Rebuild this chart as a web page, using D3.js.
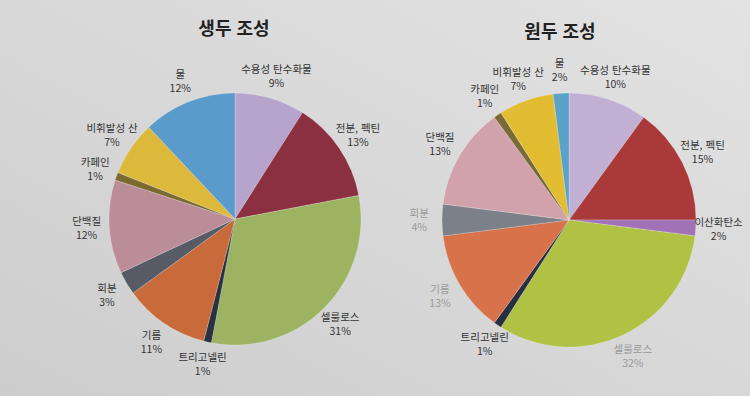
<!DOCTYPE html>
<html lang="ko">
<head>
    <meta charset="UTF-8">
    <title>생두 / 원두 조성</title>
    <script src="https://d3js.org/d3.v7.min.js"></script>
    <style>
        body { margin: 0; }
        text { font-family: "Noto Sans CJK KR", "Noto Sans", sans-serif; }
    </style>
</head>
<body>
    <svg id="svg1" width="750" height="396"></svg>

    <script>
        // data ---------------------------------------------------------------
        const greenNames  = ["수용성 탄수화물", "전분, 펙틴", "셀룰로스", "트리고넬린", "기름", "회분", "단백질", "카페인", "비휘발성 산", "물"];
        const greenValues = [9, 13, 31, 1, 11, 3, 12, 1, 7, 12];
        const greenColors = ["#b6a4cc", "#8a3040", "#9cb462", "#2a3242", "#c96a3a", "#565b66", "#bb8d98", "#7a6a30", "#dcb93a", "#5b9bcb"];

        const roastNames  = ["수용성 탄수화물", "전분, 펙틴", "이산화탄소", "셀룰로스", "트리고넬린", "기름", "회분", "단백질", "카페인", "비휘발성 산", "물"];
        const roastValues = [10, 15, 2, 32, 1, 13, 4, 13, 1, 7, 2];
        const roastColors = ["#c2afd4", "#aa3a3a", "#a272b8", "#b0c244", "#283040", "#d8724a", "#7c808a", "#d2a2ac", "#7a6a38", "#e2bd32", "#5ba2c9"];
        // labels washed out by glare in the photo
        const roastFaded  = ["셀룰로스", "기름", "회분"];

        const titles = ["생두 조성", "원두 조성"];

        // setup --------------------------------------------------------------
        const svg = d3.select("#svg1");

        const defs = svg.append("defs");
        const bg = defs.append("linearGradient").attr("id", "bg")
            .attr("x1", 0).attr("y1", 1).attr("x2", 1).attr("y2", 0);
        bg.append("stop").attr("offset", 0).attr("stop-color", "#cdcdcd");
        bg.append("stop").attr("offset", 1).attr("stop-color", "#e3e3e3");
        svg.append("rect").attr("width", 750).attr("height", 396).attr("fill", "url(#bg)");

        const charts = [
            {title: titles[0], names: greenNames, values: greenValues, colors: greenColors, cx: 235, cy: 219, r: 126, tx: 234, ty: 35, faded: []},
            {title: titles[1], names: roastNames, values: roastValues, colors: roastColors, cx: 569, cy: 220, r: 127, tx: 560, ty: 38, faded: roastFaded}
        ];

        charts.forEach(c => {
            const rows = c.names.map((n, i) => ({name: n, value: c.values[i], color: c.colors[i]}));
            const pie = d3.pie().sort(null).value(d => d.value);
            const arc = d3.arc().innerRadius(0).outerRadius(c.r);
            const labelArc = d3.arc().innerRadius(c.r * 1.18).outerRadius(c.r * 1.18);
            const arcs = pie(rows);

            const g = svg.append("g").attr("transform", `translate(${c.cx}, ${c.cy})`);

            g.selectAll("path")
                .data(arcs)
                .join("path")
                .attr("d", arc)
                .attr("fill", d => d.data.color)
                .attr("stroke", "rgba(255,255,255,0.35)")
                .attr("stroke-width", 0.6);

            // two separate text rows per slice: name, then percent
            const lab = g.selectAll("g.lab")
                .data(arcs)
                .join("g")
                .attr("class", "lab")
                .attr("transform", d => `translate(${labelArc.centroid(d)})`)
                .attr("fill", d => c.faded.includes(d.data.name) ? "#9a9a9a" : "#333")
                .attr("font-size", 10.5)
                .attr("text-anchor", "middle");
            lab.append("text").attr("y", -3).text(d => d.data.name);
            lab.append("text").attr("y", 11).text(d => d.data.value + "%");

            svg.append("text")
                .attr("x", c.tx).attr("y", c.ty)
                .attr("text-anchor", "middle")
                .attr("font-size", 18)
                .attr("font-weight", "bold")
                .attr("fill", "#222")
                .text(c.title);
        });
    </script>
</body>
</html>
